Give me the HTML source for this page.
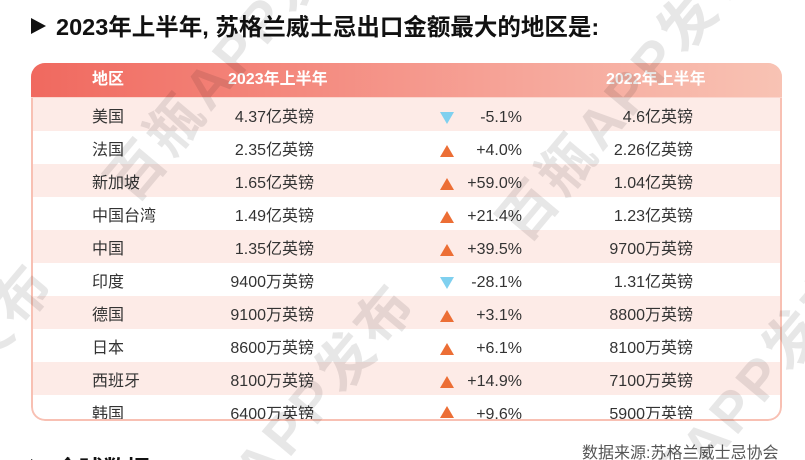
<!DOCTYPE html>
<html><head><meta charset="utf-8">
<style>
*{margin:0;padding:0;box-sizing:border-box}
html,body{width:805px;height:460px;overflow:hidden;background:#fff}
body{position:relative;font-family:"Liberation Sans","Noto Sans CJK SC",sans-serif;color:#333}
.abs{position:absolute}
.title{left:56px;top:16px;font-size:23.5px;line-height:23.5px;font-weight:bold;color:#111;white-space:nowrap}
.tri{width:0;height:0;border-left:15px solid #111;border-top:8.5px solid transparent;border-bottom:8.5px solid transparent}
.tbl{left:31px;top:63px;width:751px;height:358px;border-radius:14px;overflow:hidden;background:#fff}
.hdr{left:0;top:0;width:751px;height:35px;background:linear-gradient(90deg,#f0695f 0%,#f4897e 35%,#f6a599 65%,#f8c3b4 100%);border-bottom:1px solid #fbd6ce;z-index:3;color:#fff;font-weight:bold;font-size:16px;line-height:34px}
.row{left:0;width:751px;height:33px;font-size:16px;line-height:33px;padding-top:3px}
.pink{background:#fdebe7}
.c{position:absolute;top:3px;white-space:nowrap}
.bord{left:0;top:0;width:751px;height:358px;border:2px solid #f8c0b3;border-radius:14px;z-index:2}
.up{position:absolute;left:409px;top:14px;width:0;height:0;border-left:7.5px solid transparent;border-right:7.5px solid transparent;border-bottom:12px solid #ec6e35}
.dn{position:absolute;left:409px;top:14px;width:0;height:0;border-left:7.5px solid transparent;border-right:7.5px solid transparent;border-top:12px solid #7fd0ef}
.l{left:61px}
.v1{right:468px;text-align:right}
.p{right:260px;text-align:right}
.v2{right:89px;text-align:right}
.src{left:582px;top:446px;font-size:16px;line-height:16px;color:#555;white-space:nowrap}
.clip{left:0;top:440px;width:805px;height:20px;overflow:hidden}
svg.wm{position:absolute;left:0;top:0;z-index:10}
</style></head><body>

<div class="abs tri" style="left:31px;top:18px"></div>
<div class="abs title">2023年上半年, 苏格兰威士忌出口金额最大的地区是:</div>

<div class="abs tbl">
  <div class="abs hdr">
    <span class="c" style="left:61px;top:0">地区</span>
    <span class="c" style="left:197px;top:0">2023年上半年</span>
    <span class="c" style="left:575px;top:0">2022年上半年</span>
  </div>
  <div class="abs row pink" style="top:35px"><span class="c l">美国</span><span class="c v1">4.37亿英镑</span><span class="dn"></span><span class="c p">-5.1%</span><span class="c v2">4.6亿英镑</span></div>
  <div class="abs row" style="top:68px"><span class="c l">法国</span><span class="c v1">2.35亿英镑</span><span class="up"></span><span class="c p">+4.0%</span><span class="c v2">2.26亿英镑</span></div>
  <div class="abs row pink" style="top:101px"><span class="c l">新加坡</span><span class="c v1">1.65亿英镑</span><span class="up"></span><span class="c p">+59.0%</span><span class="c v2">1.04亿英镑</span></div>
  <div class="abs row" style="top:134px"><span class="c l">中国台湾</span><span class="c v1">1.49亿英镑</span><span class="up"></span><span class="c p">+21.4%</span><span class="c v2">1.23亿英镑</span></div>
  <div class="abs row pink" style="top:167px"><span class="c l">中国</span><span class="c v1">1.35亿英镑</span><span class="up"></span><span class="c p">+39.5%</span><span class="c v2">9700万英镑</span></div>
  <div class="abs row" style="top:200px"><span class="c l">印度</span><span class="c v1">9400万英镑</span><span class="dn"></span><span class="c p">-28.1%</span><span class="c v2">1.31亿英镑</span></div>
  <div class="abs row pink" style="top:233px"><span class="c l">德国</span><span class="c v1">9100万英镑</span><span class="up"></span><span class="c p">+3.1%</span><span class="c v2">8800万英镑</span></div>
  <div class="abs row" style="top:266px"><span class="c l">日本</span><span class="c v1">8600万英镑</span><span class="up"></span><span class="c p">+6.1%</span><span class="c v2">8100万英镑</span></div>
  <div class="abs row pink" style="top:299px"><span class="c l">西班牙</span><span class="c v1">8100万英镑</span><span class="up"></span><span class="c p">+14.9%</span><span class="c v2">7100万英镑</span></div>
  <div class="abs row" style="top:332px"><span class="c l">韩国</span><span class="c v1">6400万英镑</span><span class="up" style="top:11px"></span><span class="c p">+9.6%</span><span class="c v2">5900万英镑</span></div>
  <div class="abs bord"></div>
</div>

<div class="abs src">数据来源:苏格兰威士忌协会</div>

<div class="abs clip">
  <div class="abs tri" style="left:31px;top:19px"></div>
  <div class="abs title" style="top:18px">全球数据</div>
</div>

<svg class="wm" width="805" height="460" xmlns="http://www.w3.org/2000/svg">
  <g font-family="Liberation Sans, Noto Sans CJK SC, sans-serif" font-weight="bold" font-size="56" fill="rgba(0,0,0,0.095)" letter-spacing="4">
    <text x="133" y="205" transform="rotate(-50 133 205)">百瓶APP发布</text>
    <text x="525" y="245" transform="rotate(-50 525 245)">百瓶APP发布</text>
    <text x="183" y="585" transform="rotate(-50 183 585)">百瓶APP发布</text>
    <text x="630" y="563" transform="rotate(-50 630 563)">百瓶APP发布</text>
    <text x="-179" y="565" transform="rotate(-50 -179 565)">百瓶APP发布</text>
  </g>
</svg>
</body></html>
